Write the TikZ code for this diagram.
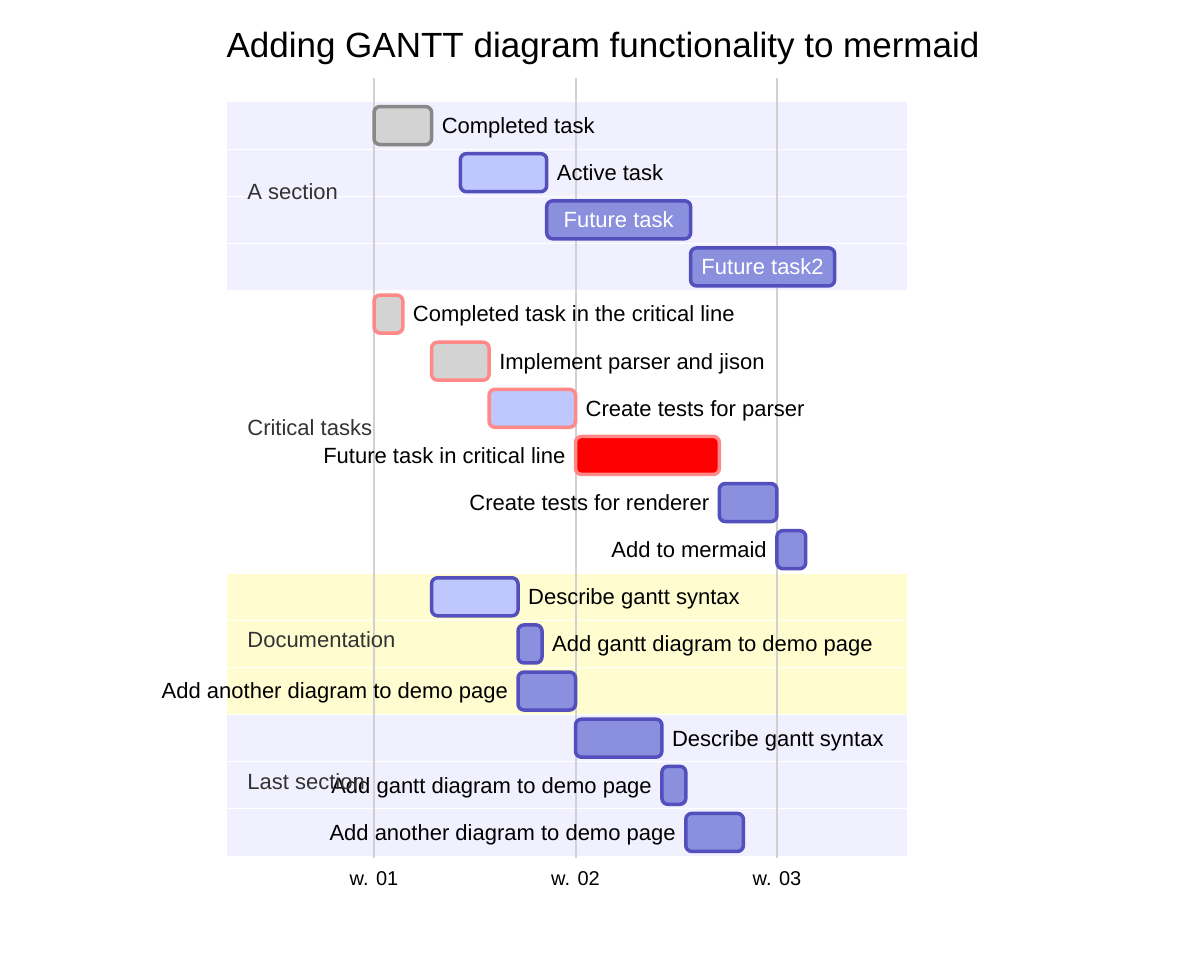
\documentclass[tikz,border=0pt]{standalone}
\usepackage{fontspec}
\setmainfont{Liberation Sans}
\usetikzlibrary{positioning}

\definecolor{sectA}{RGB}{240,240,254}
\definecolor{sectC}{RGB}{255,252,208}
\definecolor{doneFill}{RGB}{211,211,211}
\definecolor{doneLine}{RGB}{136,136,136}
\definecolor{activeFill}{RGB}{191,199,255}
\definecolor{taskLine}{RGB}{83,79,188}
\definecolor{futureFill}{RGB}{138,144,221}
\definecolor{critLine}{RGB}{255,136,136}

\begin{document}
\begin{tikzpicture}[x=0.5pt, y=-0.5pt,
  task/.style={draw, rounded corners=3pt, line width=1.75pt, minimum height=19pt, inner sep=0pt},
  done/.style={task, fill=doneFill, draw=doneLine},
  active/.style={task, fill=activeFill, draw=taskLine},
  future/.style={task, fill=futureFill, draw=taskLine},
  critdone/.style={done, draw=critLine},
  critactive/.style={active, draw=critLine},
  crit/.style={task, fill=red, draw=critLine},
  tasklabel/.style={font=\fontsize{11}{13}\selectfont, inner sep=0pt, text height=7.9pt, text depth=0pt},
  lr/.style={right=4pt of bar\r},
  ll/.style={left=4pt of bar\r},
  li/.style={at={(bar\r.center)}, text=white},
  section/.style={tasklabel, text=black!80, anchor=west},
  week/.style={font=\fontsize{10}{12}\selectfont, inner sep=0pt, text height=7.2pt, text depth=0pt},
  gridline/.style={draw=black!18, line width=1pt}]
  \useasboundingbox (0,0) rectangle (1200,967);

  % section rows
  \foreach \r/\c in {0/sectA,1/sectA,2/sectA,3/sectA,4/white,5/white,6/white,7/white,8/white,9/white,
    10/sectC,11/sectC,12/sectC,13/sectA,14/sectA,15/sectA}
    \fill[\c] (227,{102.5+47.125*\r}) rectangle (907,{101.5+47.125*(\r+1)});

  % weeks
  \foreach \w/\x in {01/374,02/575.5,03/777} {
    \draw[gridline] (\x,78) -- (\x,858);
    \node[week] (w\w) at (\x,878) {w. \w};
  }

  % tasks
  \foreach \r/\a/\b/\s/\t/\p in {
    0/374/431.6/done/Completed task/lr,
    1/460.4/546.7/active/Active task/lr,
    2/546.7/690.6/future/Future task/li,
    3/690.6/834.6/future/Future task2/li,
    4/374/402.8/critdone/Completed task in the critical line/lr,
    5/431.6/489.1/critdone/Implement parser and jison/lr,
    6/489.1/575.5/critactive/Create tests for parser/lr,
    7/575.5/719.3/crit/Future task in critical line/ll,
    8/719.3/776.9/future/Create tests for renderer/ll,
    9/776.9/805.7/future/Add to mermaid/ll,
    10/431.6/518/active/Describe gantt syntax/lr,
    11/518/542/future/Add gantt diagram to demo page/lr,
    12/518/575.5/future/Add another diagram to demo page/ll,
    13/575.5/661.9/future/Describe gantt syntax/lr,
    14/661.9/685.8/future/Add gantt diagram to demo page/ll,
    15/685.8/743.4/future/Add another diagram to demo page/ll} {
    \node[\s, minimum width={(\b-\a)*0.5pt}] (bar\r) at ({(\a+\b)/2},{125.56+47.125*\r}) {};
    \node[tasklabel, \p] (lab\r) {\t};
  }

  % sections
  \node[section] (secA) at (247,192) {A section};
  \node[section] (secB) at (247,428) {Critical tasks};
  \node[section] (secC) at (247,640) {Documentation};
  \node[section] (secD) at (247,782) {Last section};

  \node[font=\fontsize{17.5}{21}\selectfont, inner sep=0pt, text height=12.5pt, text depth=0pt] (title) at (603,45)
    {Adding GANTT diagram functionality to mermaid};
\end{tikzpicture}
\end{document}
